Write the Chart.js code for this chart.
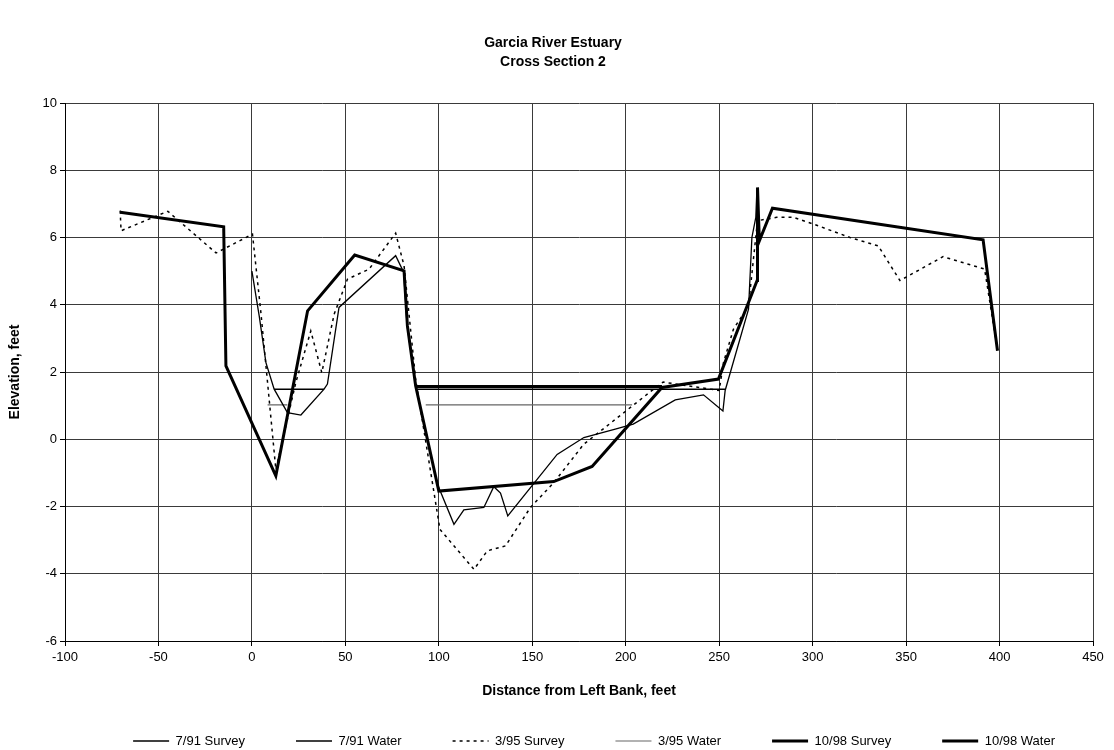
<!DOCTYPE html>
<html>
<head>
<meta charset="utf-8">
<script src="https://cdn.jsdelivr.net/npm/chart.js@4/dist/chart.umd.min.js"></script>
<style>
  html, body { margin: 0; padding: 0; background: #fff; }
  canvas { display: block; }
</style>
</head>
<body>
<canvas id="c" width="1114" height="750"></canvas>
<script>
// ---- Data ----
const titleLines = ['Garcia River Estuary', 'Cross Section 2'];
const xTitle = 'Distance from Left Bank, feet';
const yTitle = 'Elevation, feet';
const seriesNames = ['7/91 Survey', '7/91 Water', '3/95 Survey', '3/95 Water', '10/98 Survey', '10/98 Water'];

const survey791X = [0, 3.9, 7.5, 11.9, 19, 26.2, 38.6, 40.4, 46.6, 76.9, 81.2, 83, 87.6, 99, 108.1, 113.4, 124.1, 129.4, 133, 136.9, 163.3, 177.6, 194.4, 204, 226.5, 241.6, 252, 253.2, 265.7, 267.5, 269.6, 270.2];
const survey791Y = [5.0, 3.67, 2.28, 1.49, 0.79, 0.72, 1.49, 1.64, 3.92, 5.46, 4.97, 3.4, 1.6, -1.3, -2.53, -2.1, -2.03, -1.41, -1.6, -2.28, -0.45, 0.05, 0.3, 0.45, 1.17, 1.32, 0.84, 1.45, 3.87, 6.0, 6.6, 7.45];

const water791X = [11.9, 38.6, 60, 88.5, 253.2];
const water791Y = [1.49, 1.49, null, 1.49, 1.49];

const survey395X = [-70.5, -70, -45, -19.2, 0.3, 4.8, 12.8, 23.5, 31.5, 37.4, 44, 51.1, 62.7, 76.9, 81.4, 87.6, 100.6, 118.8, 125.9, 135.7, 149, 161.5, 177.5, 213.1, 220, 250, 252.3, 257.6, 265.7, 270.5, 280.8, 289.7, 300.4, 320, 335.1, 346.7, 369.8, 392, 398.9];
const survey395Y = [6.8, 6.2, 6.78, 5.54, 6.1, 3.77, -0.9, 1.69, 3.22, 1.98, 3.72, 4.76, 5.06, 6.13, 5.16, 1.79, -2.68, -3.87, -3.32, -3.17, -2.03, -1.29, -0.15, 1.41, 1.7, 1.45, 2.28, 3.27, 3.97, 6.5, 6.6, 6.6, 6.4, 6.0, 5.75, 4.72, 5.43, 5.06, 2.65];

const water395X = [8.4, 19, 50, 93, 203.4];
const water395Y = [1.02, 1.02, null, 1.02, 1.02];

const survey1098X = [-70.5, -15.1, -13.9, 12.8, 29.8, 55, 81.4, 83.2, 87.6, 100, 161.5, 182, 219.4, 249.6, 270.3, 270.5, 271.5, 278.5, 391.2, 398.9];
const survey1098Y = [6.75, 6.32, 2.18, -1.09, 3.82, 5.48, 5.01, 3.37, 1.59, -1.54, -1.26, -0.81, 1.54, 1.79, 4.72, 7.49, 5.9, 6.87, 5.93, 2.63];

const water1098X = [87.6, 219.4];
const water1098Y = [1.57, 1.57];

const xMin = -100, xMax = 450, xStep = 50;
const yMin = -6, yMax = 10, yStep = 2;

// ---- Build datasets ----
function pts(xs, ys) { return xs.map((x, i) => ({ x: x, y: ys[i] })); }

const styles = [
  { color: '#000', width: 1.3, dash: [] },
  { color: '#000', width: 1.5, dash: [] },
  { color: '#000', width: 1.5, dash: [3, 4] },
  { color: '#666', width: 1.2, dash: [] },
  { color: '#000', width: 3, dash: [] },
  { color: '#000', width: 3, dash: [] }
];
const seriesData = [
  pts(survey791X, survey791Y),
  pts(water791X, water791Y),
  pts(survey395X, survey395Y),
  pts(water395X, water395Y),
  pts(survey1098X, survey1098Y),
  pts(water1098X, water1098Y)
];

const datasets = seriesNames.map((name, i) => ({
  label: name,
  data: seriesData[i],
  showLine: true,
  borderColor: styles[i].color,
  backgroundColor: styles[i].color,
  borderWidth: styles[i].width,
  borderDash: styles[i].dash,
  pointRadius: 0,
  pointHoverRadius: 0,
  tension: 0,
  spanGaps: false,
  fill: false
}));

Chart.defaults.font.family = "'Liberation Sans', Arial, sans-serif";
Chart.defaults.font.size = 13;
Chart.defaults.color = '#000';

new Chart(document.getElementById('c'), {
  type: 'scatter',
  data: { datasets: datasets },
  options: {
    responsive: false,
    animation: false,
    events: [],
    layout: { padding: { top: 0, right: 8, bottom: -7.5, left: 0 } },
    scales: {
      x: {
        type: 'linear',
        min: xMin, max: xMax,
        ticks: { stepSize: xStep, padding: 4, font: { size: 13 }, color: '#000', maxRotation: 0 },
        grid: { color: '#3a3a3a', lineWidth: 1, tickLength: 5, tickColor: '#000' },
        border: { color: '#000', width: 1 },
        title: { display: true, text: xTitle, font: { size: 14, weight: 'bold' }, color: '#000', padding: { top: 0, bottom: -15.9 } },
        afterFit: function (s) { s.height = 42.5; }
      },
      y: {
        type: 'linear',
        min: yMin, max: yMax,
        ticks: { stepSize: yStep, padding: 3, font: { size: 13 }, color: '#000' },
        grid: { color: '#3a3a3a', lineWidth: 1, tickLength: 5, tickColor: '#000' },
        border: { color: '#000', width: 1 },
        title: { display: true, text: yTitle, font: { size: 14, weight: 'bold' }, color: '#000', padding: { top: 6.5, bottom: 0 } },
        afterFit: function (s) { s.width = 65; }
      },
      yRightSpace: {
        type: 'linear',
        position: 'right',
        display: true,
        ticks: { display: false },
        grid: { display: false, drawTicks: false },
        border: { display: false },
        afterFit: function (s) { s.width = 13; }
      }
    },
    plugins: {
      title: {
        display: true,
        text: titleLines,
        color: '#000',
        font: { size: 14, weight: 'bold', lineHeight: 1.35 },
        padding: { top: 33.5, bottom: 31.7 }
      },
      legend: {
        display: true,
        position: 'bottom',
        align: 'end',
        labels: {
          usePointStyle: true,
          pointStyle: 'line',
          pointStyleWidth: 36,
          padding: 51,
          color: '#000',
          font: { size: 13 },
          generateLabels: function (chart) {
            const items = Chart.defaults.plugins.legend.labels.generateLabels(chart);
            items.forEach(function (it) {
              const ds = chart.data.datasets[it.datasetIndex];
              it.lineDash = ds.borderDash;
              it.lineWidth = ds.borderWidth;
              it.strokeStyle = ds.borderColor;
              it.pointStyle = 'line';
            });
            return items;
          }
        }
      },
      tooltip: { enabled: false }
    }
  }
});
</script>
</body>
</html>
